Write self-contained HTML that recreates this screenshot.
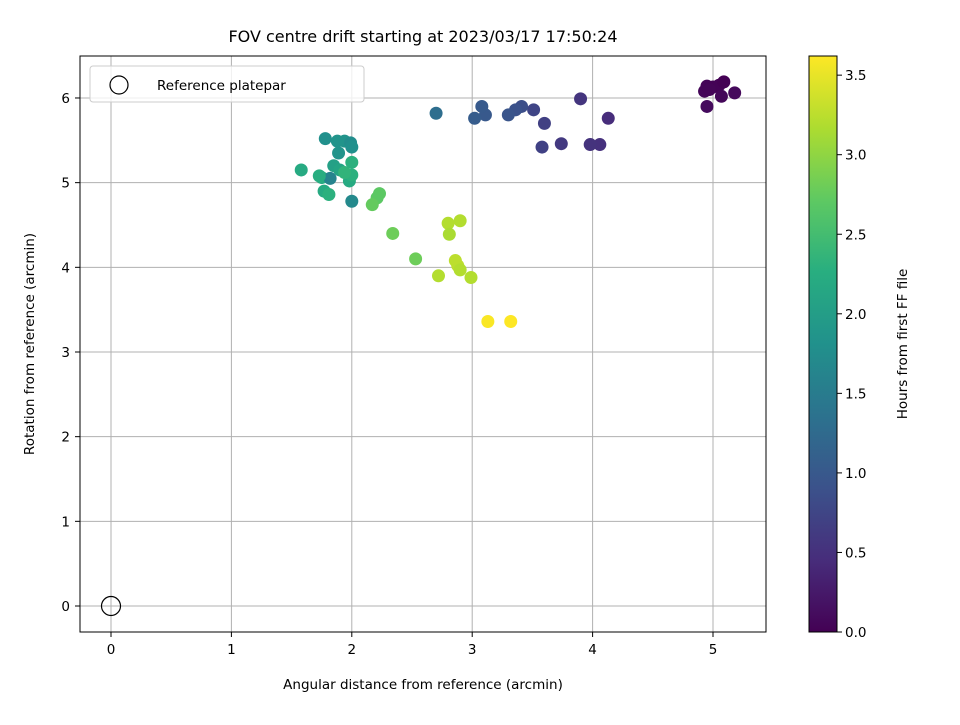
<!DOCTYPE html>
<html><head><meta charset="utf-8"><style>
body{margin:0;background:#fff}
text{font-family:"DejaVu Sans","Liberation Sans",sans-serif;fill:#000}
</style></head><body>
<svg id="c" width="960" height="720" xmlns="http://www.w3.org/2000/svg">
<defs><linearGradient id="vir" x1="0" y1="1" x2="0" y2="0">
<stop offset="0" stop-color="#440154"/><stop offset="0.125" stop-color="#472d7b"/><stop offset="0.25" stop-color="#3b528b"/><stop offset="0.375" stop-color="#2c728e"/><stop offset="0.5" stop-color="#21918c"/><stop offset="0.625" stop-color="#28ae80"/><stop offset="0.75" stop-color="#5ec962"/><stop offset="0.875" stop-color="#addc30"/><stop offset="1" stop-color="#fde725"/></linearGradient></defs>
<g id="grid"></g>
<g id="pts"></g>
<rect x="80" y="56" width="686" height="576" fill="none" stroke="#000" stroke-width="1"/>
<g id="ticks"></g>
<text x="423" y="42" font-size="16" text-anchor="middle">FOV centre drift starting at 2023/03/17 17:50:24</text>
<text x="423" y="689" font-size="13.5" text-anchor="middle">Angular distance from reference (arcmin)</text>
<text transform="translate(34,344) rotate(-90)" font-size="13.5" text-anchor="middle">Rotation from reference (arcmin)</text>
<g>
<rect x="90" y="66" width="274" height="36" rx="3" fill="#fff" fill-opacity="0.8" stroke="#ccc"/>
<circle cx="119" cy="85" r="9" fill="none" stroke="#000" stroke-width="1.2"/>
<text x="157" y="90" font-size="13.5">Reference platepar</text>
</g>
<rect x="809" y="56" width="28" height="576" fill="url(#vir)" stroke="#000" stroke-width="1"/>
<g id="cb"></g>
<text transform="translate(907,344) rotate(-90)" font-size="13.5" text-anchor="middle">Hours from first FF file</text>
</svg>
<script>
const xs=[4.93,4.95,5.0,5.05,5.09,5.07,5.18,4.95,4.97,4.13,4.06,3.98,3.90,3.74,3.58,3.60,3.51,3.41,3.36,3.30,3.11,3.08,3.02,2.70,1.78,1.88,1.94,1.99,2.0,1.89,2.0,1.58,1.85,1.90,1.75,1.82,1.98,2.0,1.94,1.77,1.81,2.0,1.73,2.23,2.21,2.17,2.34,2.53,2.80,2.90,2.81,2.86,2.88,2.90,2.72,2.99,3.13,3.32];
const ys=[6.08,6.14,6.13,6.15,6.19,6.02,6.06,5.90,6.10,5.76,5.45,5.45,5.99,5.46,5.42,5.70,5.86,5.90,5.86,5.80,5.80,5.90,5.76,5.82,5.52,5.49,5.49,5.47,5.42,5.35,5.24,5.15,5.20,5.15,5.06,5.05,5.02,5.09,5.12,4.90,4.86,4.78,5.08,4.87,4.82,4.74,4.40,4.10,4.52,4.55,4.39,4.08,4.02,3.97,3.90,3.88,3.36,3.36];
const hours=[0.05,0.03,0.02,0.02,0.0,0.06,0.08,0.1,0.04,0.45,0.5,0.52,0.55,0.6,0.7,0.68,0.75,0.85,0.9,0.95,1.0,1.02,1.05,1.3,1.8,1.85,1.85,1.75,1.8,1.85,2.3,2.2,2.05,2.1,2.2,1.6,2.2,2.3,2.35,2.2,2.3,1.7,2.25,2.7,2.7,2.75,2.8,2.8,3.2,3.2,3.15,3.25,3.25,3.2,3.2,3.2,3.6,3.62];
const xTicks=[0,1,2,3,4,5];
const yTicks=[0,1,2,3,4,5,6];
const cbTicks=[0,0.5,1,1.5,2,2.5,3,3.5];
const X=v=>111+v*120.4, Y=v=>606-v*84.67, CB=v=>632-v*159.1, HMAX=3.62;
const vir=[[68,1,84],[71,45,123],[59,82,139],[44,114,142],[33,145,140],[40,174,128],[94,201,98],[173,220,48],[253,231,37]];
function col(t){t=Math.max(0,Math.min(1,t/HMAX))*8;const i=Math.min(7,Math.floor(t)),f=t-i;const a=vir[i],b=vir[i+1];return `rgb(${a.map((v,k)=>Math.round(v+(b[k]-v)*f)).join(',')})`;}
const NS='http://www.w3.org/2000/svg';
function mk(tag,at,par){const e=document.createElementNS(NS,tag);for(const k in at)e.setAttribute(k,at[k]);document.getElementById(par).appendChild(e);return e;}
xTicks.forEach(v=>{const x=X(v);
let g=mk('line',{x1:x,x2:x,y1:56,y2:632,stroke:'#b0b0b0','stroke-width':1},'grid');


mk('line',{x1:x,x2:x,y1:632,y2:637,stroke:'#000'},'ticks');
const t=mk('text',{x:x,y:654,'font-size':13.5,'text-anchor':'middle'},'ticks');t.textContent=v;

});
yTicks.forEach(v=>{const y=Y(v);
let g=mk('line',{x1:80,x2:766,y1:y,y2:y,stroke:'#b0b0b0','stroke-width':1},'grid');


mk('line',{x1:75,x2:80,y1:y,y2:y,stroke:'#000'},'ticks');
const t=mk('text',{x:70,y:y+5,'font-size':13.5,'text-anchor':'end'},'ticks');t.textContent=v;

});
cbTicks.forEach(v=>{const y=CB(v);
mk('line',{x1:837,x2:842,y1:y,y2:y,stroke:'#000'},'cb');
const t=mk('text',{x:845,y:y+5,'font-size':13.5},'cb');t.textContent=v.toFixed(1);

});
const ref=mk('circle',{cx:X(0),cy:Y(0),r:9.5,fill:'none',stroke:'#000','stroke-width':1.2},'pts');


xs.forEach((v,i)=>{const c=mk('circle',{cx:X(v),cy:Y(ys[i]),r:6.5,fill:col(hours[i])},'pts');

});
</script>
</body></html>
